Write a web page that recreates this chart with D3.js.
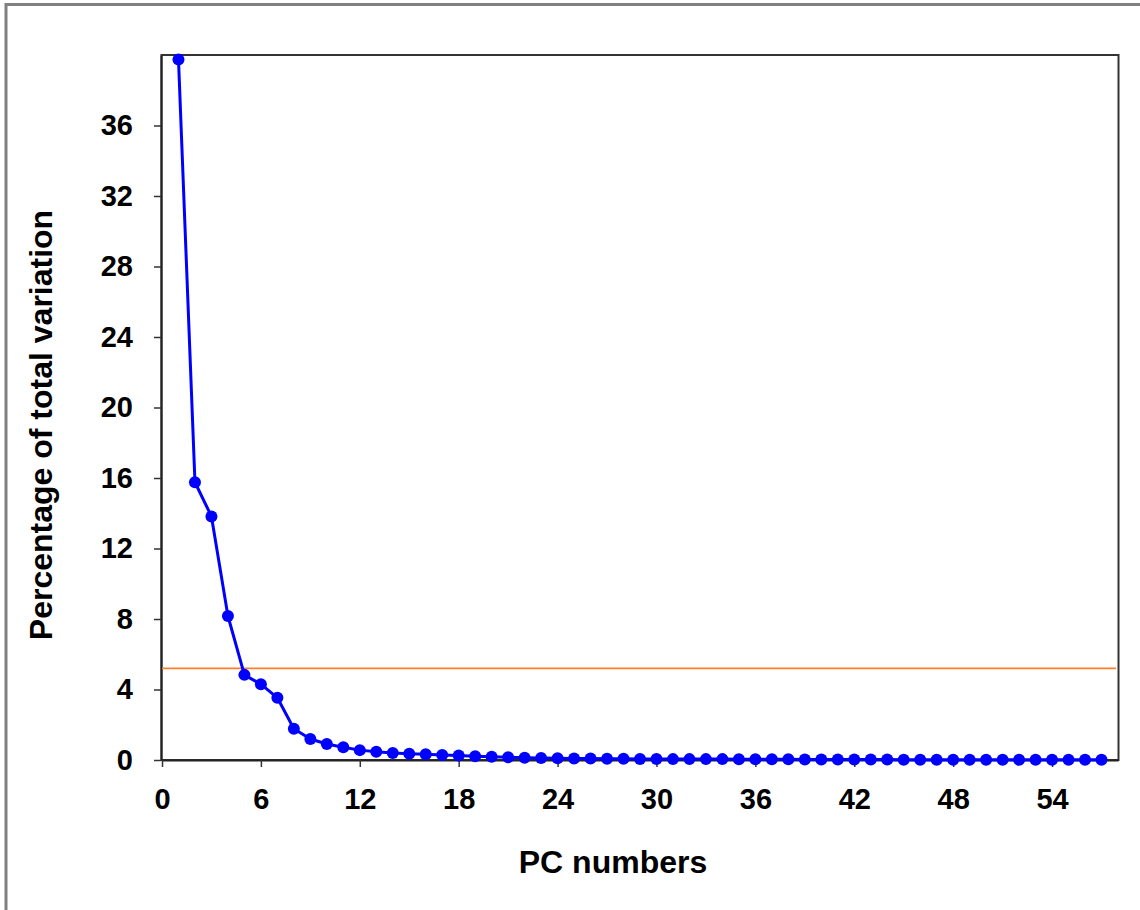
<!DOCTYPE html>
<html>
<head>
<meta charset="utf-8">
<script src="https://cdn.jsdelivr.net/npm/d3@7/dist/d3.min.js"></script>
<style>
  html, body { margin: 0; padding: 0; background: #ffffff; }
  svg { display: block; }
  text { font-family: "Liberation Sans", Arial, sans-serif; font-weight: bold; fill: #000; }
</style>
</head>
<body>
<svg id="chart" width="1140" height="910"></svg>
<script>
// Scree plot: percentage of total variation explained by each principal component
const pcNumbers = d3.range(1, 58);
const percentVariation = [
  39.75, 15.76, 13.82, 8.17, 4.83, 4.30, 3.53, 1.77, 1.19, 0.91,
  0.72, 0.56, 0.47, 0.40, 0.36, 0.33, 0.28, 0.25, 0.21, 0.18,
  0.15, 0.13, 0.11, 0.10, 0.09, 0.08, 0.07, 0.07, 0.06, 0.06,
  0.05, 0.05, 0.05, 0.05, 0.04, 0.04, 0.04, 0.04, 0.03, 0.03,
  0.03, 0.03, 0.03, 0.03, 0.02, 0.02, 0.02, 0.02, 0.02, 0.02,
  0.02, 0.01, 0.01, 0.01, 0.01, 0.01, 0.01
];
const cutoffValue = 5.2;
const xTickValues = [0, 6, 12, 18, 24, 30, 36, 42, 48, 54];
const yTickValues = [0, 4, 8, 12, 16, 20, 24, 28, 32, 36];
const xTitle = "PC numbers";
const yTitle = "Percentage of total variation";

const svg = d3.select("#chart");
const W = 1140, H = 910;
const plot = { left: 162, right: 1118, top: 55, bottom: 760 };

// outer panel edge (top and left)
svg.append("line").attr("x1", 5).attr("x2", W).attr("y1", 4.5).attr("y2", 4.5)
  .attr("stroke", "#808080").attr("stroke-width", 3);
svg.append("line").attr("x1", 6).attr("x2", 6).attr("y1", 3).attr("y2", H)
  .attr("stroke", "#808080").attr("stroke-width", 3);

const x = d3.scaleLinear().domain([0, 58]).range([plot.left, plot.right]);
const y = d3.scaleLinear().domain([0, 40]).range([plot.bottom, plot.top]);

// plot frame
svg.append("rect")
  .attr("x", plot.left - 0.5).attr("y", plot.top)
  .attr("width", plot.right - plot.left + 1).attr("height", plot.bottom - plot.top)
  .attr("fill", "none").attr("stroke", "#333").attr("stroke-width", 2);

// axes
const xAxis = svg.append("g")
  .attr("transform", `translate(0,${plot.bottom})`)
  .call(d3.axisBottom(x).tickValues(xTickValues).tickSize(7).tickPadding(21).tickSizeOuter(0));
const yAxis = svg.append("g")
  .attr("transform", `translate(${plot.left - 1},0)`)
  .call(d3.axisLeft(y).tickValues(yTickValues).tickSize(7).tickPadding(21).tickSizeOuter(0));

[xAxis, yAxis].forEach(g => {
  g.select(".domain").attr("stroke", "#222").attr("stroke-width", 2);
  g.selectAll(".tick line").attr("stroke", "#333").attr("stroke-width", 1.5);
  g.selectAll(".tick text").style("font-size", "29px").style("font-weight", "bold")
    .style("font-family", '"Liberation Sans", Arial, sans-serif').attr("fill", "#000");
});

// cutoff line
svg.append("line")
  .attr("x1", plot.left).attr("x2", plot.right - 2)
  .attr("y1", y(cutoffValue)).attr("y2", y(cutoffValue))
  .attr("stroke", "#ff7f2a").attr("stroke-width", 1.8);

// series
const pts = pcNumbers.map((pc, i) => ({ pc, v: percentVariation[i] }));
svg.append("path")
  .datum(pts)
  .attr("fill", "none").attr("stroke", "#0000ff").attr("stroke-width", 3)
  .attr("stroke-linejoin", "round")
  .attr("d", d3.line().x(d => x(d.pc)).y(d => y(d.v)));
svg.append("g").selectAll("circle")
  .data(pts).join("circle")
  .attr("cx", d => x(d.pc)).attr("cy", d => y(d.v)).attr("r", 6)
  .attr("fill", "#0000ff");

// axis titles
svg.append("text")
  .attr("x", 613).attr("y", 873)
  .attr("text-anchor", "middle")
  .style("font-size", "32px")
  .text(xTitle);
svg.append("text")
  .attr("transform", "translate(52,425) rotate(-90)")
  .attr("text-anchor", "middle")
  .style("font-size", "32px")
  .text(yTitle);
</script>
</body>
</html>
